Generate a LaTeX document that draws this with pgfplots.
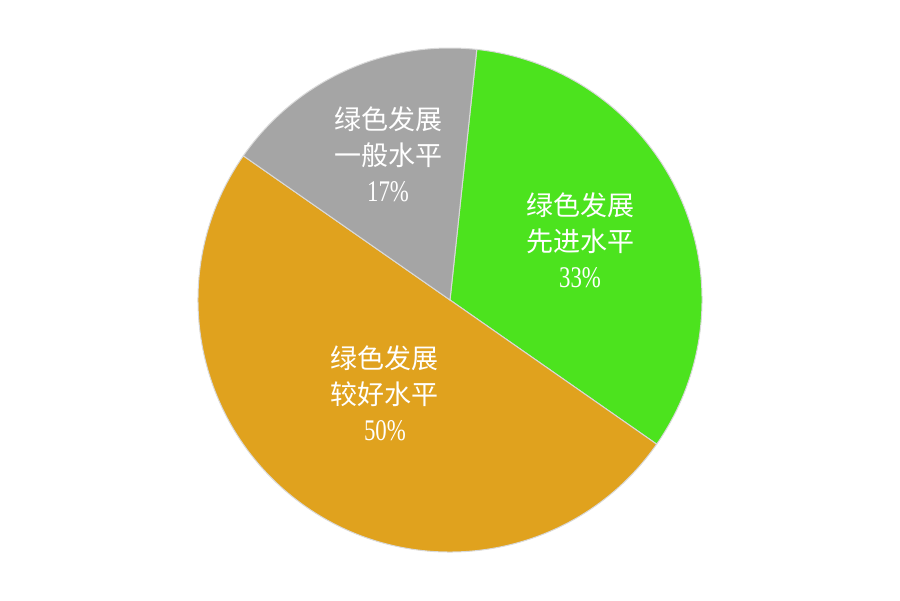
\documentclass[border=0pt]{standalone}
\usepackage{pgfplots}
\pgfplotsset{compat=1.18}
\usepackage{pgfplotstable}
\usepackage{fontspec}
\newfontfamily\cjk{Noto Sans CJK SC}
\newfontfamily\dig[FakeStretch=0.76]{Liberation Serif}
\definecolor{cgreen}{HTML}{4CE31E}
\definecolor{corange}{HTML}{E0A21E}
\definecolor{cgray}{HTML}{A5A5A5}
\pgfplotstableread{
start end col lx ly l2 pct
83.9 -34.9 cgreen 0.516 0.238 先进水平 33
-34.9 -214.9 corange -0.258 -0.369 较好水平 50
145.1 83.9 cgray -0.246 0.579 一般水平 17
}\piedata
\begin{document}
\begin{tikzpicture}
\begin{axis}[
  x=126pt, y=126pt,
  xmin=-1.7857, xmax=1.7857, ymin=-1.1905, ymax=1.1905,
  hide axis, clip=false,
]
\path (axis cs:-1.7857,-1.1905) rectangle (axis cs:1.7857,1.1905);
\pgfplotstablegetrowsof{\piedata}
\pgfmathtruncatemacro{\nrows}{\pgfplotsretval-1}
\pgfplotsinvokeforeach{0,...,\nrows}{
  \pgfplotstablegetelem{#1}{start}\of\piedata \edef\sa{\pgfplotsretval}
  \pgfplotstablegetelem{#1}{end}\of\piedata \edef\ea{\pgfplotsretval}
  \pgfplotstablegetelem{#1}{col}\of\piedata \edef\cc{\pgfplotsretval}
  \pgfplotstablegetelem{#1}{lx}\of\piedata \edef\lx{\pgfplotsretval}
  \pgfplotstablegetelem{#1}{ly}\of\piedata \edef\ly{\pgfplotsretval}
  \pgfplotstablegetelem{#1}{l2}\of\piedata \edef\ltwo{\pgfplotsretval}
  \pgfplotstablegetelem{#1}{pct}\of\piedata \edef\pc{\pgfplotsretval}
  \edef\temp{\noexpand\fill[\cc, draw=white!85!black, line width=0.5pt]
    (axis cs:0,0) -- (axis cs:{cos(\sa)},{sin(\sa)})
    arc[start angle=\sa, end angle=\ea, radius=126pt] -- cycle;
    \noexpand\node[text=white, align=center, font=\noexpand\cjk\noexpand\fontsize{13.5pt}{18pt}\noexpand\selectfont]
    at (axis cs:\lx,\ly) {绿色发展\noexpand\\\ltwo\noexpand\\{\noexpand\dig\noexpand\fontsize{15pt}{18pt}\noexpand\selectfont\pc\noexpand\%}};}
  \temp
}
\end{axis}
\end{tikzpicture}
\end{document}
